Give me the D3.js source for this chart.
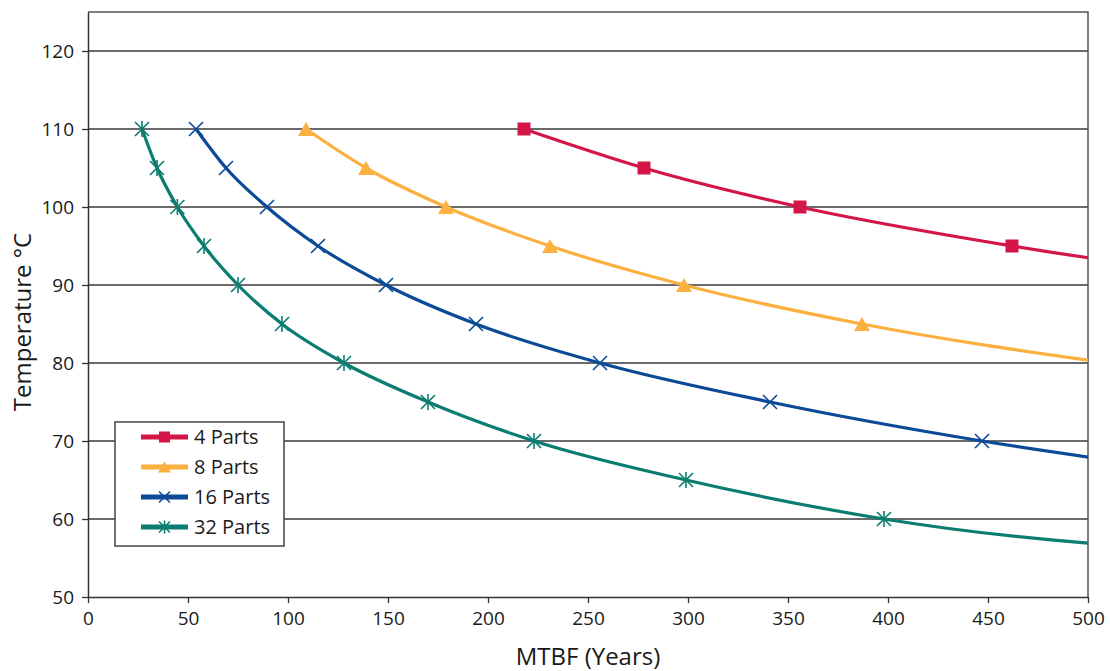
<!DOCTYPE html>
<html>
<head>
<meta charset="utf-8">
<script src="https://d3js.org/d3.v7.min.js"></script>
<style>
  body { margin: 0; background: #fff; }
  svg { display: block; font-family: "Open Sans", "Noto Sans", sans-serif; }
</style>
</head>
<body>
<div id="chart"></div>
<script>
/////////////
// DATA    //
/////////////

// temperatures at which the markers sit (°C)
var temps = [110, 105, 100, 95, 90, 85, 80, 75, 70, 65, 60, 55];

// MTBF in years for each series (last value runs past the axis and is clipped)
var mtbf4 = [218, 278, 356, 462, 600];
var mtbf8 = [109, 139, 179, 231, 298, 387, 510];
var mtbf16 = [54, 69, 89.5, 115, 149, 194, 256, 341, 447, 586];
var mtbf32 = [27, 34.5, 44.7, 58, 75, 97, 128, 170, 223, 299, 398, 630];

var seriesNames = ["4 Parts", "8 Parts", "16 Parts", "32 Parts"];
var seriesColors = ["#d41547", "#fbb040", "#0c4a98", "#0b7d70"];
var seriesShapes = ["square", "triangle", "cross", "star"];
var seriesValues = [mtbf4, mtbf8, mtbf16, mtbf32];

var xTicks = [0, 50, 100, 150, 200, 250, 300, 350, 400, 450, 500];
var yTicks = [50, 60, 70, 80, 90, 100, 110, 120];

//////////////////////////////
// SVG AND GRAPH DIMENSIONS //
//////////////////////////////

var svgWidth = 1110, svgHeight = 671;
var margin = { top: 12, right: 22, bottom: 74, left: 88 };
var width = svgWidth - margin.left - margin.right,
    height = svgHeight - margin.top - margin.bottom;

var svg = d3.select("#chart").append("svg")
  .attr("width", svgWidth)
  .attr("height", svgHeight);

var g = svg.append("g")
  .attr("transform", "translate(" + margin.left + "," + margin.top + ")");

var x = d3.scaleLinear().domain([0, 500]).range([0, width]);
var y = d3.scaleLinear().domain([50, 125]).range([height, 0]);

svg.append("defs").append("clipPath").attr("id", "plotClip")
  .append("rect").attr("x", 0).attr("y", 0).attr("width", width).attr("height", height);

//////////
// GRID //
//////////

g.selectAll(".grid")
  .data(yTicks.filter(function (d) { return d > 50; }))
  .enter().append("line")
  .attr("class", "grid")
  .attr("x1", 0).attr("x2", width)
  .attr("y1", function (d) { return y(d); })
  .attr("y2", function (d) { return y(d); })
  .attr("stroke", "#3a3a3a")
  .attr("stroke-width", 1.3);

// plot frame (top, right)
g.append("path")
  .attr("d", "M0,0H" + width + "V" + height)
  .attr("fill", "none")
  .attr("stroke", "#555")
  .attr("stroke-width", 1.5);

//////////
// AXES //
//////////

var xAxis = d3.axisBottom(x).tickValues(xTicks).tickSize(6).tickSizeOuter(0).tickPadding(9);
var yAxis = d3.axisLeft(y).tickValues(yTicks).tickSize(6).tickSizeOuter(0).tickPadding(8);

var gx = g.append("g")
  .attr("transform", "translate(0," + height + ")")
  .call(xAxis);

var gy = g.append("g").call(yAxis);

[gx, gy].forEach(function (a) {
  a.select(".domain").attr("stroke", "#333").attr("stroke-width", 1.5);
  a.selectAll(".tick line").attr("stroke", "#333").attr("stroke-width", 1.3);
  a.selectAll(".tick text")
    .attr("fill", "#1a1a1a")
    .style("font-size", "19px")
    .style("font-family", "\"Open Sans\", sans-serif");
});

svg.append("text")
  .attr("x", margin.left + width / 2)
  .attr("y", 665)
  .attr("text-anchor", "middle")
  .attr("fill", "#1a1a1a")
  .style("font-size", "24px")
  .text("MTBF (Years)");

svg.append("text")
  .attr("transform", "translate(31," + 322 + ") rotate(-90)")
  .attr("text-anchor", "middle")
  .attr("fill", "#1a1a1a")
  .style("font-size", "24px")
  .text("Temperature °C");

/////////////
// MARKERS //
/////////////

function markerPath(shape, s) {
  var h = s / 2;
  if (shape === "square") return "M" + -h + "," + -h + "H" + h + "V" + h + "H" + -h + "Z";
  if (shape === "triangle") return "M0," + -h + "L" + (h + 1) + "," + h + "H" + -(h + 1) + "Z";
  if (shape === "cross") return "M" + -h + "," + -h + "L" + h + "," + h + "M" + h + "," + -h + "L" + -h + "," + h;
  return "M" + -h + "," + -h + "L" + h + "," + h + "M" + h + "," + -h + "L" + -h + "," + h + "M0," + -(h + 1) + "V" + (h + 1);
}

function drawMarker(sel, shape, color, s) {
  sel.append("path")
    .attr("d", markerPath(shape, s))
    .attr("fill", (shape === "square" || shape === "triangle") ? color : "none")
    .attr("stroke", color)
    .attr("stroke-width", (shape === "square" || shape === "triangle") ? 0 : 1.6);
}

////////////
// SERIES //
////////////

var line = d3.line()
  .x(function (d) { return x(d.mtbf); })
  .y(function (d) { return y(d.temp); })
  .curve(d3.curveMonotoneX);

var plot = g.append("g").attr("clip-path", "url(#plotClip)");

seriesValues.forEach(function (vals, i) {
  var pts = vals.map(function (v, j) { return { mtbf: v, temp: temps[j] }; });

  plot.append("path")
    .datum(pts)
    .attr("d", line)
    .attr("fill", "none")
    .attr("stroke", seriesColors[i])
    .attr("stroke-width", 3.2);

  var size = seriesShapes[i] === "square" ? 13 : 14;
  plot.selectAll(".m" + i)
    .data(pts.filter(function (p) { return p.mtbf <= 500; }))
    .enter().append("g")
    .attr("class", "m" + i)
    .attr("transform", function (d) { return "translate(" + x(d.mtbf) + "," + y(d.temp) + ")"; })
    .each(function () { drawMarker(d3.select(this), seriesShapes[i], seriesColors[i], size); });
});

////////////
// LEGEND //
////////////

var legend = svg.append("g").attr("transform", "translate(115,422)");

legend.append("rect")
  .attr("width", 169).attr("height", 124)
  .attr("fill", "#fff")
  .attr("stroke", "#444")
  .attr("stroke-width", 1.5);

seriesNames.forEach(function (name, i) {
  var row = legend.append("g").attr("transform", "translate(0," + (15 + i * 30) + ")");
  row.append("line")
    .attr("x1", 26).attr("x2", 73)
    .attr("stroke", seriesColors[i])
    .attr("stroke-width", 5);
  var m = row.append("g").attr("transform", "translate(49.5,0)");
  drawMarker(m, seriesShapes[i], seriesColors[i], 11);
  row.append("text")
    .attr("x", 79)
    .attr("y", 7)
    .attr("fill", "#1a1a1a")
    .style("font-size", "20px")
    .text(name);
});
</script>
</body>
</html>
